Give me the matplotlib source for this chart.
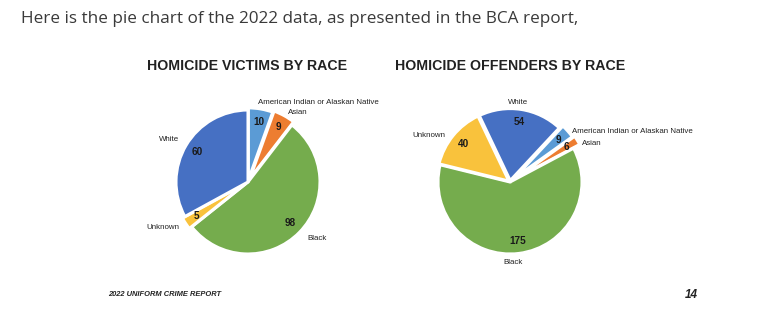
import matplotlib.pyplot as plt

W, H = 759, 327

races = ["American Indian or Alaskan Native", "Asian", "Black", "Unknown", "White"]
victims = [10, 9, 98, 5, 60]
offenders = [9, 6, 175, 40, 54]

colors = ["#5B9BD5", "#ED7D31", "#75AC4D", "#F9C23C", "#4670C3"]

NARROW = ["Liberation Sans", "DejaVu Sans"]


def px(x, y):
    return x / W, 1 - y / H


def pie_axes(fig, cx, cy, r, w=260, h=200):
    ax = fig.add_axes([(cx - w / 2) / W, 1 - (cy + h / 2) / H, w / W, h / H])
    return ax


def draw_pie(fig, cx, cy, r, values, start, explode, label_pos):
    ax = pie_axes(fig, cx, cy, r)
    total = sum(values)
    wedges, texts, autotexts = ax.pie(
        values, colors=colors, startangle=start, counterclock=False,
        explode=explode, pctdistance=0.82,
        autopct=lambda p: "%d" % round(p * total / 100),
        wedgeprops=dict(edgecolor="white", linewidth=2.2))
    for t in autotexts:
        t.set_fontfamily(NARROW)
        t.set_fontweight("bold")
        t.set_fontsize(7.2)
        t.set_color("#1a1a1a")
    for name, (dx, dy, ha) in zip(races, label_pos):
        ax.text(dx / r, dy / r, name, ha=ha, va="center", fontsize=5.7,
                family=NARROW, color="#222222")
    ax.set_xlim(-130 / r, 130 / r)
    ax.set_ylim(-100 / r, 100 / r)
    ax.axis("off")
    return ax


fig = plt.figure(figsize=(W / 100, H / 100), dpi=100)
fig.patch.set_facecolor("white")

fig.text(*px(21, 19), "Here is the pie chart of the 2022 data, as presented in the BCA report,",
         ha="left", va="center", fontsize=12.3, family=["Open Sans", "DejaVu Sans"],
         color="#3a3a3a")

fig.text(*px(247, 66), "HOMICIDE VICTIMS BY RACE", ha="center", va="center",
         fontsize=10.2, fontweight="bold", family=NARROW, color="#222222")
fig.text(*px(510, 66), "HOMICIDE OFFENDERS BY RACE", ha="center", va="center",
         fontsize=10.2, fontweight="bold", family=NARROW, color="#222222")

# victims
draw_pie(fig, 248, 182, 72, victims, 90,
         [0.03, 0.05, 0.0, 0.04, 0.0],
         [(10, 80, "left"), (50, 70, "center"), (69, -56, "center"),
          (-85, -45, "center"), (-79, 43, "center")])

# offenders
draw_pie(fig, 510, 182, 72, offenders, 47,
         [0.07, 0.1, 0.0, 0.02, 0.02],
         [(62, 51, "left"), (82, 39, "center"), (3, -80, "center"),
          (-81, 47, "center"), (8, 80, "center")])

fig.text(*px(108, 295), "2022 UNIFORM CRIME REPORT", ha="left", va="center",
         fontsize=5.4, fontweight="bold", fontstyle="italic", family=NARROW,
         color="#222222")
fig.text(*px(698, 295), "14", ha="right", va="center", fontsize=8.5,
         fontweight="bold", fontstyle="italic", family=NARROW, color="#222222")

fig.savefig("out.png", dpi=100, facecolor="white")
